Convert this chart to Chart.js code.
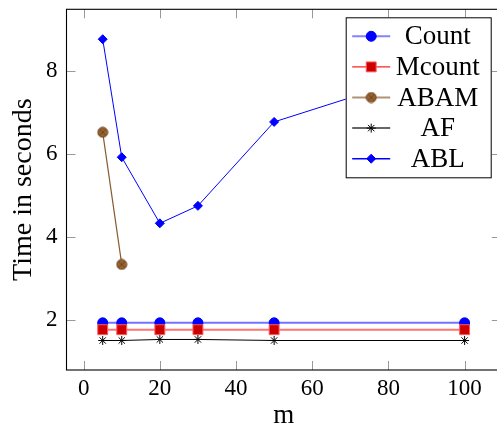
<!DOCTYPE html>
<html>
<head>
<meta charset="utf-8">
<script src="https://cdn.jsdelivr.net/npm/chart.js@4"></script>
<style>
  html, body { margin: 0; padding: 0; background: #fff; overflow: hidden; }
  canvas { display: block; }
</style>
</head>
<body>
<canvas id="chart" width="502" height="423"></canvas>
<script>
// values
const mValues = [5, 10, 20, 30, 50, 100];
const countTimes = [1.935, 1.935, 1.935, 1.935, 1.935, 1.935];
const mcountTimes = [1.77, 1.77, 1.77, 1.77, 1.77, 1.77];
const abamM = [5, 10];
const abamTimes = [6.52, 3.34];
const afTimes = [1.51, 1.51, 1.535, 1.535, 1.51, 1.51];
const ablTimes = [8.76, 5.92, 4.33, 4.75, 6.77, 8.23];

const xTickValues = [0, 20, 40, 60, 80, 100];
const yTickValues = [2, 4, 6, 8];

const FONT = "'Liberation Serif', 'Times New Roman', serif";

const toPoints = (xs, ys) => xs.map((x, i) => ({ x: x, y: ys[i] }));

// brown circle with a cross inside (pgfplots otimes*)
function makeOtimes() {
    const c = document.createElement('canvas');
    c.width = 12; c.height = 12;
    const g = c.getContext('2d');
    g.beginPath();
    g.arc(6, 6, 5, 0, Math.PI * 2);
    g.fillStyle = '#98622f';
    g.fill();
    g.strokeStyle = '#6e4520';
    g.lineWidth = 1;
    g.stroke();
    g.beginPath();
    g.moveTo(2.8, 2.8); g.lineTo(9.2, 9.2);
    g.moveTo(9.2, 2.8); g.lineTo(2.8, 9.2);
    g.stroke();
    return c;
}
const otimes = makeOtimes();

const datasets = [
    {
        label: 'Count',
        data: toPoints(mValues, countTimes),
        borderColor: 'rgba(90,90,255,0.85)',
        borderWidth: 2,
        pointStyle: 'circle',
        pointRadius: 5,
        pointBackgroundColor: '#0000ff',
        pointBorderColor: '#0000ff',
        pointBorderWidth: 1,
        order: 5
    },
    {
        label: 'Mcount',
        data: toPoints(mValues, mcountTimes),
        borderColor: 'rgba(255,90,90,0.85)',
        borderWidth: 2,
        pointStyle: 'rect',
        pointRadius: 7,
        pointBackgroundColor: '#cc0000',
        pointBorderColor: '#ff5a5a',
        pointBorderWidth: 1,
        order: 4
    },
    {
        label: 'ABAM',
        data: toPoints(abamM, abamTimes),
        borderColor: '#8a5a30',
        borderWidth: 1.2,
        pointStyle: otimes,
        pointRadius: 5,
        order: 3
    },
    {
        label: 'AF',
        data: toPoints(mValues, afTimes),
        borderColor: '#000000',
        borderWidth: 1,
        pointStyle: 'star',
        pointRadius: 4.5,
        pointBackgroundColor: '#000000',
        pointBorderColor: '#000000',
        pointBorderWidth: 1,
        order: 2
    },
    {
        label: 'ABL',
        data: toPoints(mValues, ablTimes),
        borderColor: '#0000ff',
        borderWidth: 1,
        pointStyle: 'rectRot',
        pointRadius: 4.5,
        pointBackgroundColor: '#0000ff',
        pointBorderColor: '#0000ff',
        pointBorderWidth: 1,
        order: 1
    }
];

// axis frame with pgfplots style inner ticks
const framePlugin = {
    id: 'frame',
    beforeDatasetsDraw(chart) {
        const { ctx, chartArea: a, scales } = chart;
        ctx.save();
        ctx.strokeStyle = '#999';
        ctx.lineWidth = 1;
        ctx.beginPath();
        xTickValues.forEach(v => {
            const px = Math.round(scales.x.getPixelForValue(v)) + 0.5;
            ctx.moveTo(px, a.bottom); ctx.lineTo(px, a.bottom - 9);
            ctx.moveTo(px, a.top); ctx.lineTo(px, a.top + 9);
        });
        yTickValues.forEach(v => {
            const py = Math.round(scales.y.getPixelForValue(v)) + 0.5;
            ctx.moveTo(a.left, py); ctx.lineTo(a.left + 9, py);
            ctx.moveTo(a.right, py); ctx.lineTo(a.right - 9, py);
        });
        ctx.stroke();
        ctx.strokeStyle = '#000';
        ctx.lineWidth = 1.1;
        ctx.strokeRect(a.left, a.top, a.right - a.left, a.bottom - a.top);
        ctx.restore();
    }
};

// legend box: line sample + marker + centred label
const legendPlugin = {
    id: 'boxLegend',
    afterDraw(chart) {
        const { ctx, chartArea: a } = chart;
        const w = 146, h = 161;
        const left = a.right - 9.1 - w;
        const top = a.top + 8;
        ctx.save();
        ctx.fillStyle = '#fff';
        ctx.fillRect(left, top, w, h);
        ctx.strokeStyle = '#000';
        ctx.lineWidth = 1;
        ctx.strokeRect(left + 0.5, top + 0.5, w - 1, h - 1);
        const legendLines = ['rgba(90,90,255,0.75)', '#ff2020', 'rgba(150,110,70,0.75)', '#333', '#0000ff'];
        const legendWidths = [2, 1.2, 2, 1.5, 1.5];
        chart.data.datasets.forEach((ds, i) => {
            const y = top + 19 + i * 30.6;
            ctx.strokeStyle = legendLines[i];
            ctx.lineWidth = legendWidths[i];
            ctx.beginPath();
            ctx.moveTo(left + 6.5, y);
            ctx.lineTo(left + 44.5, y);
            ctx.stroke();
            ctx.fillStyle = ds.pointBackgroundColor || '#000';
            ctx.strokeStyle = ds.pointBorderColor || '#000';
            ctx.lineWidth = ds.pointBorderWidth || 1;
            Chart.helpers.drawPoint(ctx, {
                pointStyle: ds.pointStyle,
                radius: ds.pointRadius,
                rotation: 0,
                borderWidth: ds.pointBorderWidth || 1
            }, left + 25.5, y);
            ctx.fillStyle = '#000';
            ctx.font = '27px ' + FONT;
            ctx.textAlign = 'center';
            ctx.textBaseline = 'middle';
            ctx.fillText(ds.label, left + 92, y + 1);
        });
        ctx.restore();
    }
};

function noPadding(scale) {
    scale.paddingTop = 0;
    scale.paddingBottom = 0;
    scale.paddingLeft = 0;
    scale.paddingRight = 0;
}

new Chart(document.getElementById('chart'), {
    type: 'line',
    data: { datasets: datasets },
    options: {
        responsive: false,
        animation: false,
        devicePixelRatio: 1,
        layout: { autoPadding: false, padding: { top: 9.3, right: 1.2, left: 0, bottom: 0 } },
        plugins: {
            legend: { display: false },
            tooltip: { enabled: false }
        },
        scales: {
            x: {
                type: 'linear',
                min: -4.5,
                max: 109.5,
                afterBuildTicks: scale => { scale.ticks = xTickValues.map(v => ({ value: v })); },
                afterFit: scale => { scale.height = 53; noPadding(scale); },
                grid: { display: false, drawTicks: false },
                border: { display: false },
                ticks: {
                    padding: 5,
                    color: '#000',
                    font: { family: FONT, size: 23 },
                    maxRotation: 0
                },
                title: {
                    display: true,
                    text: 'm',
                    color: '#000',
                    font: { family: FONT, size: 27, lineHeight: 0.75 },
                    padding: { top: 0, bottom: -3 }
                }
            },
            y: {
                type: 'linear',
                min: 0.8,
                max: 9.48,
                afterBuildTicks: scale => { scale.ticks = yTickValues.map(v => ({ value: v })); },
                afterFit: scale => { scale.width = 66.5; noPadding(scale); },
                grid: { display: false, drawTicks: false },
                border: { display: false },
                ticks: {
                    padding: 9,
                    color: '#000',
                    font: { family: FONT, size: 23 }
                },
                title: {
                    display: true,
                    text: 'Time in seconds',
                    color: '#000',
                    font: { family: FONT, size: 28, lineHeight: 1 },
                    padding: { top: 9.5, bottom: 0 }
                }
            }
        }
    },
    plugins: [framePlugin, legendPlugin]
});
</script>
</body>
</html>
